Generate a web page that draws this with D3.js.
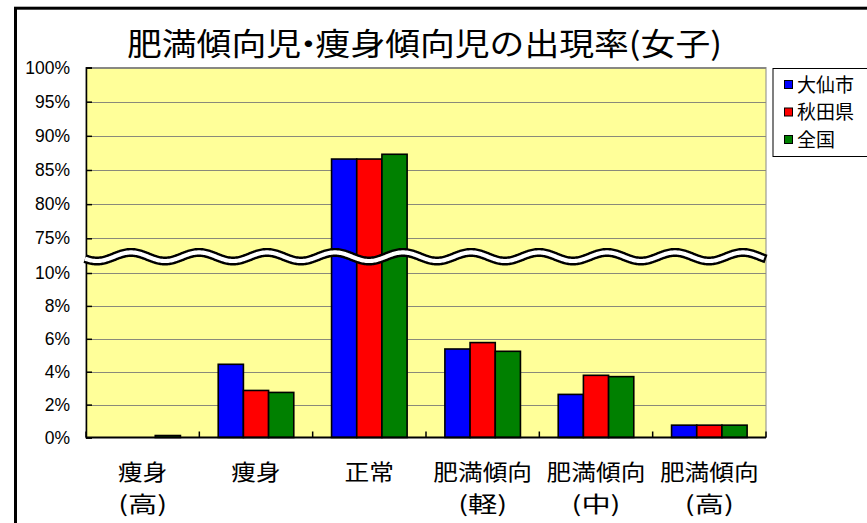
<!DOCTYPE html>
<html>
<head>
<meta charset="utf-8">
<script src="https://cdn.jsdelivr.net/npm/d3@7"></script>
<style>
  html, body { margin: 0; padding: 0; background: #fff; }
  svg { display: block; }
</style>
</head>
<body>
<svg id="chart" width="867" height="523"></svg>
<script>
// Categories (two-line labels) and series values in percent
const categories = ["痩身(高)", "痩身", "正常", "肥満傾向(軽)", "肥満傾向(中)", "肥満傾向(高)"];
const labelLine1 = ["痩身", "痩身", "正常", "肥満傾向", "肥満傾向", "肥満傾向"];
const labelLine2 = ["(高)", "", "", "(軽)", "(中)", "(高)"];
const seriesNames = ["大仙市", "秋田県", "全国"];
const seriesColors = ["#0000ff", "#ff0000", "#008000"];
const daisen = [0, 4.45, 86.6, 5.38, 2.62, 0.75];
const akita  = [0, 2.86, 86.6, 5.77, 3.78, 0.75];
const zenkoku = [0.12, 2.74, 87.3, 5.24, 3.70, 0.75];
const tickLower = [0, 2, 4, 6, 8, 10];
const tickUpper = [75, 80, 85, 90, 95, 100];
const titleText = "肥満傾向児・痩身傾向児の出現率(女子)";

const seriesValues = [daisen, akita, zenkoku];

const svg = d3.select("#chart");
const plot = { left: 86, right: 766, top: 67.5, bottom: 437.5 };

// Outer frame
svg.append("rect")
  .attr("x", 15.5).attr("y", 8.2)
  .attr("width", 900).attr("height", 600)
  .attr("fill", "#fff").attr("stroke", "#000").attr("stroke-width", 3);

// Broken value axis: 0–10% below the break, 75–100% above it
const y = d3.scaleLinear()
  .domain([0, 10, 75, 100])
  .range([plot.bottom, 273, 238.3, plot.top]);

const x0 = d3.scaleBand().domain(categories).range([plot.left, plot.right]).padding(0);
const barW = x0.bandwidth() / 4.5;
const groupOff = (x0.bandwidth() - 3 * barW) / 2;
const x1 = d3.scaleBand().domain(seriesNames).range([groupOff, groupOff + 3 * barW]).padding(0);

// Plot area background
svg.append("rect")
  .attr("x", plot.left).attr("y", plot.top)
  .attr("width", plot.right - plot.left).attr("height", plot.bottom - plot.top)
  .attr("fill", "#ffff99").attr("stroke", "#888").attr("stroke-width", 1);

const allTicks = tickLower.concat(tickUpper);

// Gridlines
svg.append("g").selectAll("line")
  .data(allTicks.filter(d => d !== 0))
  .join("line")
  .attr("x1", plot.left).attr("x2", plot.right)
  .attr("y1", d => Math.round(y(d)) + 0.5).attr("y2", d => Math.round(y(d)) + 0.5)
  .attr("stroke", "#8a8a7a").attr("stroke-width", 1);

// Bars
const rows = categories.map((c, i) => ({ c, vals: seriesValues.map((s, k) => ({ name: seriesNames[k], color: seriesColors[k], v: s[i] })) }));
const groups = svg.append("g").selectAll("g")
  .data(rows).join("g")
  .attr("transform", d => `translate(${x0(d.c)},0)`);
groups.selectAll("rect")
  .data(d => d.vals.filter(e => e.v > 0))
  .join("rect")
  .attr("x", d => x1(d.name))
  .attr("width", barW)
  .attr("y", d => y(d.v))
  .attr("height", d => plot.bottom - y(d.v))
  .attr("fill", d => d.color)
  .attr("stroke", "#000").attr("stroke-width", 1.6);

// Left axis
const yAxis = d3.axisLeft(y).tickValues(allTicks).tickSize(-6).tickPadding(16)
  .tickFormat(d => d + "%");
const ya = svg.append("g").attr("transform", `translate(${plot.left},0)`).call(yAxis);
ya.select(".domain").attr("stroke", "#000").attr("stroke-width", 1.5);
ya.selectAll(".tick line").attr("stroke", "#000").attr("stroke-width", 1.5);
ya.selectAll(".tick text")
  .attr("font-family", "'Liberation Sans', Arial, sans-serif")
  .attr("font-size", 17.5).attr("fill", "#000")
  .attr("x", -16);

// Bottom axis with category boundary ticks
svg.append("line")
  .attr("x1", plot.left).attr("x2", plot.right)
  .attr("y1", plot.bottom).attr("y2", plot.bottom)
  .attr("stroke", "#000").attr("stroke-width", 1.8);
const bounds = categories.map(c => x0(c)).concat([plot.right]);
svg.append("g").selectAll("line")
  .data(bounds).join("line")
  .attr("x1", d => d).attr("x2", d => d)
  .attr("y1", plot.bottom).attr("y2", plot.bottom - 6)
  .attr("stroke", "#000").attr("stroke-width", 1.5);

// Wavy break mark across the plot
const waveMid = 256.7, waveAmp = 4.3, wavePeriod = 68, wavePhase = 80;
const wavePts = d3.range(85, plot.right + 0.5, 1).map(px => [px, waveMid + waveAmp * Math.sin(2 * Math.PI * (px - wavePhase) / wavePeriod)]);
const waveLine = d3.line();
svg.append("path").attr("d", waveLine(wavePts))
  .attr("fill", "none").attr("stroke", "#000").attr("stroke-width", 9);
svg.append("path").attr("d", waveLine(wavePts.filter(p => p[0] <= plot.right - 2)))
  .attr("fill", "none").attr("stroke", "#fff").attr("stroke-width", 4.2);

// Category labels
const labFont = "'Noto Sans CJK JP', sans-serif";
const lab = svg.append("g");
categories.forEach((c, i) => {
  const cx = x0(c) + x0.bandwidth() / 2;
  const l1 = labelLine1[i];
  lab.append("text").attr("x", cx).attr("y", 480)
    .attr("text-anchor", "middle").attr("font-family", labFont).attr("font-size", 22)
    .attr("textLength", l1.length * 24.7).attr("lengthAdjust", "spacingAndGlyphs")
    .text(l1);
  if (labelLine2[i]) {
    lab.append("text").attr("x", cx).attr("y", 512)
      .attr("text-anchor", "middle").attr("font-family", labFont).attr("font-size", 22)
      .attr("textLength", 49).attr("lengthAdjust", "spacingAndGlyphs")
      .text(labelLine2[i]);
  }
});

// Title: tighten the space on both sides of the middle dot
const dotIdx = titleText.indexOf("・");
const titleDx = Array.from(titleText).map((ch, i) => (i === dotIdx || i === dotIdx + 1) ? -9 : 0).join(" ");
svg.append("text")
  .attr("x", 127).attr("y", 55)
  .attr("dx", titleDx)
  .attr("font-family", labFont).attr("font-size", 31)
  .attr("textLength", 595).attr("lengthAdjust", "spacingAndGlyphs")
  .text(titleText);

// Legend
const leg = svg.append("g");
leg.append("rect").attr("x", 773).attr("y", 68.5).attr("width", 120).attr("height", 88)
  .attr("fill", "#fff").attr("stroke", "#000").attr("stroke-width", 1);
seriesNames.forEach((n, k) => {
  const cy = 85 + k * 27.5;
  leg.append("rect").attr("x", 784.5).attr("y", cy - 4.5).attr("width", 8).attr("height", 8)
    .attr("fill", seriesColors[k]).attr("stroke", "#000").attr("stroke-width", 1);
  leg.append("text").attr("x", 797).attr("y", cy).attr("dy", "0.36em")
    .attr("font-family", labFont).attr("font-size", 19).text(n);
});
</script>
</body>
</html>
